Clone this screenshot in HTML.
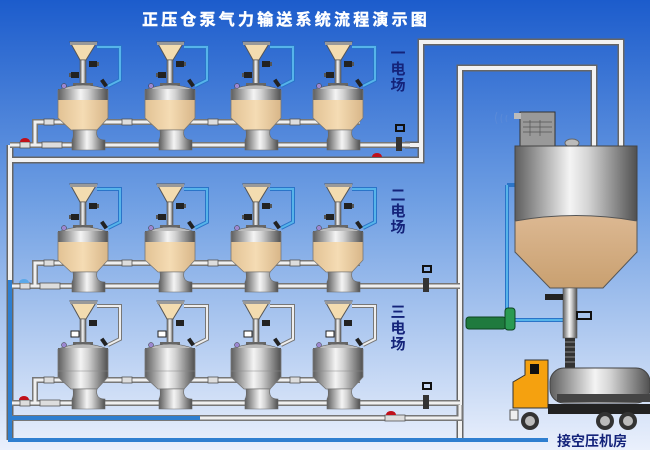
<!DOCTYPE html>
<html><head><meta charset="utf-8"><style>
html,body{margin:0;padding:0;}
body{width:650px;height:450px;overflow:hidden;}
svg{display:block;}
.t{font-family:"Liberation Sans","Noto Sans CJK SC",sans-serif;font-weight:bold;}
</style></head><body>
<svg width="650" height="450" viewBox="0 0 650 450" xmlns="http://www.w3.org/2000/svg">
<defs>
<linearGradient id="bg" x1="0" y1="0" x2="0" y2="1">
<stop offset="0" stop-color="#1c5ccc"/><stop offset="0.45" stop-color="#6f9fe3"/><stop offset="1" stop-color="#eaf0fc"/>
</linearGradient>
<linearGradient id="metal" x1="0" y1="0" x2="1" y2="0">
<stop offset="0" stop-color="#5e5e5e"/><stop offset="0.45" stop-color="#f4f4f4"/><stop offset="0.6" stop-color="#d4d4d4"/><stop offset="1" stop-color="#505050"/>
</linearGradient>
<linearGradient id="beige" x1="0" y1="0" x2="1" y2="0">
<stop offset="0" stop-color="#e2c294"/><stop offset="0.5" stop-color="#f5dcb4"/><stop offset="1" stop-color="#d8b688"/>
</linearGradient>
<linearGradient id="silobeige" x1="0" y1="0" x2="0" y2="1">
<stop offset="0" stop-color="#dcb892"/><stop offset="1" stop-color="#c9a070"/>
</linearGradient>
<g id="fullv">
<path d="M14,5 H37 V38 L25,44" fill="none" stroke="#2a74c8" stroke-width="4"/>
<path d="M14,5 H37 V38 L25,44" fill="none" stroke="#56b4ea" stroke-width="2"/>
<polygon points="-13,0 14,0 3,18 -3,18" fill="#f3dcb0" stroke="#555" stroke-width="1"/>
<rect x="-13" y="0" width="27" height="3" fill="#999"/>
<rect x="-3" y="18" width="6" height="24" fill="url(#metal)" stroke="#555" stroke-width="0.6"/>
<rect x="6" y="19" width="8" height="6" fill="#222"/><rect x="14" y="20" width="2" height="4" fill="#555"/>
<rect x="-12" y="30" width="8" height="6" fill="#222"/><rect x="-14" y="31" width="2" height="4" fill="#555"/>
<rect x="-10" y="41" width="20" height="4" fill="#666"/>
<path d="M-25,48 Q0,38 25,48 Z" fill="#bbb" stroke="#555" stroke-width="0.6"/>
<rect x="-25" y="47" width="50" height="12" fill="url(#metal)"/>
<rect x="-25" y="58" width="50" height="18" fill="url(#beige)"/>
<polygon points="-25,76 25,76 14,88 -12,88" fill="url(#beige)"/>
<path d="M-25,48 V76 L-12,88 H14 L25,76 V48" fill="none" stroke="#777" stroke-width="0.8"/>
<path d="M-10,88 H14 Q12,98 22,98 V108 H-11 V98 Q-9,95 -10,88 Z" fill="url(#metal)" stroke="#666" stroke-width="0.6"/>
<circle cx="-19" cy="44" r="2.5" fill="#9b87d0" stroke="#333" stroke-width="0.5"/>
<rect x="19" y="37" width="4" height="8" fill="#222" transform="rotate(-35 21 41)"/>
</g>
<g id="emptyv">
<path d="M14,5 H37 V38 L25,44" fill="none" stroke="#777" stroke-width="4"/>
<path d="M14,5 H37 V38 L25,44" fill="none" stroke="#eee" stroke-width="2"/>
<polygon points="-13,0 14,0 3,18 -3,18" fill="#f3dcb0" stroke="#555" stroke-width="1"/>
<rect x="-13" y="0" width="27" height="3" fill="#999"/>
<rect x="-3" y="18" width="6" height="24" fill="url(#metal)" stroke="#555" stroke-width="0.6"/>
<rect x="6" y="19" width="8" height="6" fill="#222"/>
<rect x="-12" y="30" width="8" height="6" fill="#fff" stroke="#222"/>
<rect x="-10" y="41" width="20" height="4" fill="#666"/>
<path d="M-25,48 Q0,38 25,48 Z" fill="#bbb" stroke="#555" stroke-width="0.6"/>
<rect x="-25" y="47" width="50" height="29" fill="url(#metal)"/>
<polygon points="-25,76 25,76 14,88 -12,88" fill="url(#metal)"/>
<path d="M-25,48 V76 L-12,88 H14 L25,76 V48" fill="none" stroke="#777" stroke-width="0.8"/>
<line x1="-25" y1="70" x2="25" y2="70" stroke="#888" stroke-width="0.6"/>
<path d="M-10,88 H14 Q12,98 22,98 V108 H-11 V98 Q-9,95 -10,88 Z" fill="url(#metal)" stroke="#666" stroke-width="0.6"/>
<circle cx="-19" cy="44" r="2.5" fill="#9b87d0" stroke="#333" stroke-width="0.5"/>
<rect x="19" y="37" width="4" height="8" fill="#222" transform="rotate(-35 21 41)"/>
</g>
</defs>
<rect width="650" height="450" fill="url(#bg)"/>
<text class="t" x="142" y="25" font-size="16" fill="#fff" letter-spacing="3.2" stroke="#fff" stroke-width="0.4">正压仓泵气力输送系统流程演示图</text>

<g fill="none" stroke-linejoin="miter">
<path d="M405,145 H421 V42 H621 V146 M460,440 V68 H594 V146 M10,145 V440 M10,160 H421 V145" stroke="#666" stroke-width="7"/>
<path d="M405,145 H421 V42 H621 V146 M460,440 V68 H594 V146 M10,145 V440 M10,160 H421 V145" stroke="#f2f2f2" stroke-width="4"/>
<path d="M10,145 H410 M35,145 V122 H360 M10,286 H460 M35,286 V263 H360 M10,403 H460 M35,403 V380 H360 M10,418 H460 V405" stroke="#777" stroke-width="6"/>
<path d="M10,145 H410 M35,145 V122 H360 M10,286 H460 M35,286 V263 H360 M10,403 H460 M35,403 V380 H360 M10,418 H460 V405" stroke="#f0f0f0" stroke-width="3"/>
<path d="M10,280 V440 H548 M10,418 H200" stroke="#2f7fd0" stroke-width="4"/>
<path d="M507,185 V320 H565 M507,185 H515" stroke="#2a74c8" stroke-width="4"/>
<path d="M507,185 V320 H565" stroke="#56b4ea" stroke-width="2"/>
</g>
<g fill="#ddd" stroke="#555" stroke-width="0.8">
<rect x="44" y="119" width="10" height="6"/><rect x="122" y="119" width="10" height="6"/><rect x="208" y="119" width="10" height="6"/><rect x="290" y="119" width="10" height="6"/>
<rect x="44" y="260" width="10" height="6"/><rect x="122" y="260" width="10" height="6"/><rect x="208" y="260" width="10" height="6"/><rect x="290" y="260" width="10" height="6"/>
<rect x="44" y="377" width="10" height="6"/><rect x="122" y="377" width="10" height="6"/><rect x="208" y="377" width="10" height="6"/><rect x="290" y="377" width="10" height="6"/>
<rect x="20" y="142" width="10" height="6"/><rect x="42" y="142" width="20" height="6"/>
<rect x="20" y="283" width="10" height="6"/><rect x="40" y="283" width="20" height="6"/>
<rect x="20" y="400" width="10" height="6"/><rect x="40" y="400" width="20" height="6"/>
<rect x="385" y="415" width="20" height="6"/>
</g>
<g fill="#c0101a"><path d="M20,142 a5,4 0 0 1 10,0 Z"/><path d="M19,400 a5,4 0 0 1 10,0 Z"/><path d="M372,157 a5,4 0 0 1 10,0 Z"/><path d="M386,415 a5,4 0 0 1 10,0 Z"/></g>
<path d="M19,283 a5,4 0 0 1 10,0 Z" fill="#5aa8e8"/>
<g fill="#333"><rect x="396" y="137" width="6" height="14"/><rect x="396" y="125" width="8" height="6" fill="none" stroke="#111" stroke-width="2"/>
<rect x="423" y="278" width="6" height="14"/><rect x="423" y="266" width="8" height="6" fill="none" stroke="#111" stroke-width="2"/>
<rect x="423" y="395" width="6" height="14"/><rect x="423" y="383" width="8" height="6" fill="none" stroke="#111" stroke-width="2"/></g>

<use href="#fullv" x="83" y="42"/><use href="#fullv" x="170" y="42"/><use href="#fullv" x="256" y="42"/><use href="#fullv" x="338" y="42"/>
<use href="#fullv" x="83" y="184"/><use href="#fullv" x="170" y="184"/><use href="#fullv" x="256" y="184"/><use href="#fullv" x="338" y="184"/>
<use href="#emptyv" x="83" y="301"/><use href="#emptyv" x="170" y="301"/><use href="#emptyv" x="256" y="301"/><use href="#emptyv" x="338" y="301"/>

<g class="t" font-size="15" fill="#14237a" text-anchor="middle">
<text x="398" y="58">一</text><text x="398" y="74">电</text><text x="398" y="90">场</text>
<text x="398" y="200">二</text><text x="398" y="216">电</text><text x="398" y="232">场</text>
<text x="398" y="317">三</text><text x="398" y="333">电</text><text x="398" y="349">场</text>
</g>

<rect x="520" y="112" width="35" height="34" fill="#999" stroke="#333"/>
<g stroke="#555" stroke-width="0.7"><line x1="523" y1="122" x2="552" y2="122"/><line x1="523" y1="127" x2="552" y2="127"/><line x1="523" y1="132" x2="552" y2="132"/><line x1="530" y1="120" x2="530" y2="136"/><line x1="540" y1="120" x2="540" y2="136"/></g>
<rect x="514" y="113" width="7" height="6" fill="#bbb"/>
<path d="M497,112 q-3,6 0,12 M502,114 q-2,5 0,9 M507,115 q-2,4 0,7" stroke="#5a8ad8" fill="none"/>
<ellipse cx="572" cy="143" rx="7" ry="4" fill="#bbb" stroke="#666"/>
<rect x="515" y="146" width="122" height="106" fill="url(#metal)" stroke="#444"/>
<path d="M515,221 Q576,210 637,221 V252 L603,288 H550 L515,252 Z" fill="url(#silobeige)" stroke="#555"/>
<rect x="563" y="288" width="14" height="50" fill="url(#metal)" stroke="#555" stroke-width="0.6"/>
<rect x="545" y="294" width="18" height="6" fill="#222"/>
<rect x="577" y="312" width="14" height="7" fill="none" stroke="#111" stroke-width="2"/>
<g fill="#333"><rect x="565" y="338" width="10" height="30"/></g>
<g stroke="#888" stroke-width="1"><line x1="565" y1="342" x2="575" y2="342"/><line x1="565" y1="347" x2="575" y2="347"/><line x1="565" y1="352" x2="575" y2="352"/><line x1="565" y1="357" x2="575" y2="357"/><line x1="565" y1="362" x2="575" y2="362"/></g>
<rect x="466" y="317" width="40" height="12" rx="3" fill="#1f7a3e" stroke="#0d4420"/>
<rect x="505" y="308" width="10" height="22" rx="3" fill="#2a9a52" stroke="#0d4420"/>
<rect x="550" y="368" width="100" height="35" rx="14" fill="url(#metal)" stroke="#444"/>
<rect x="557" y="394" width="93" height="8" fill="#444"/>
<path d="M513,400 V382 L525,375 V360 H548 V408 H513 Z" fill="#f5a10f" stroke="#333"/>
<rect x="530" y="364" width="9" height="10" fill="#111"/>
<rect x="548" y="404" width="102" height="10" fill="#222"/>
<rect x="510" y="410" width="8" height="10" fill="#eee" stroke="#555"/>
<g fill="#333"><circle cx="530" cy="421" r="9"/><circle cx="605" cy="421" r="9"/><circle cx="628" cy="421" r="9"/></g>
<g fill="#bbb"><circle cx="530" cy="421" r="5"/><circle cx="605" cy="421" r="5"/><circle cx="628" cy="421" r="5"/></g>

<text class="t" x="557" y="446" font-size="14" fill="#14237a">接空压机房</text>
</svg>
</body></html>
